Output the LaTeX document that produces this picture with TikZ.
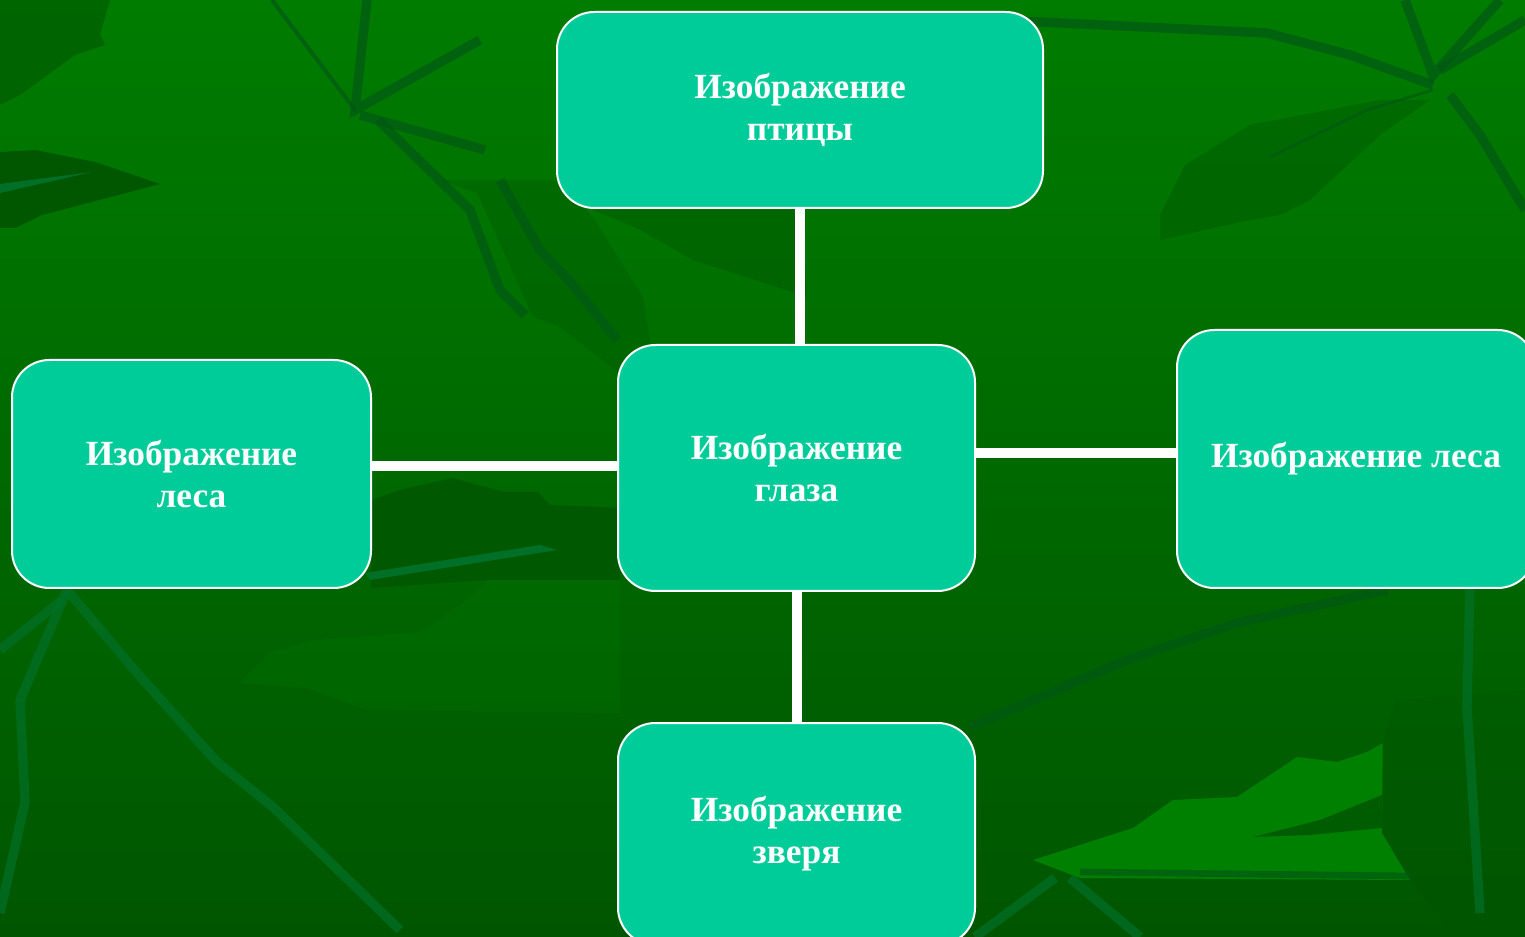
\documentclass[tikz,border=0pt]{standalone}
\usepackage{fontspec}
\setmainfont{Liberation Serif}
\usetikzlibrary{positioning}
\definecolor{boxfill}{RGB}{0,204,153}
\definecolor{bgtop}{RGB}{0,124,0}
\definecolor{bgbottom}{RGB}{0,86,0}
\definecolor{leafdark}{RGB}{0,84,0}
\definecolor{leaflight}{RGB}{0,128,0}
\definecolor{veindark}{RGB}{0,88,20}
\definecolor{veinlight}{RGB}{0,112,40}
\begin{document}
\begin{tikzpicture}[x=0.75pt,y=-0.75pt,
    box/.style={draw=white, line width=1.5pt, fill=boxfill, rounded corners=28pt,
      text=white, align=center, inner sep=0pt,
      font=\fontsize{26.5}{31.5}\selectfont\bfseries},
    link/.style={draw=white, line width=7.5pt},
    leaf/.style={fill=leafdark, opacity=0.55},
    vein/.style={draw=veindark, line width=7pt, opacity=0.7}]
  \useasboundingbox (0,0) rectangle (1525,937);
  \clip (0,0) rectangle (1525,937);
  % background
  \shade[top color=bgtop, bottom color=bgbottom] (0,0) rectangle (1525,937);
  \fill[leaf] (0,0) -- (110,0) -- (100,35) -- (105,45) -- (75,55) -- (20,95) -- (0,105) -- cycle;
  \fill[leaf, opacity=0.9] (0,152) -- (35,150) -- (95,162) -- (160,184) -- (42,215) -- (15,228) -- (0,228) -- cycle;
  \fill[veinlight] (0,184) -- (92,172) -- (0,193) -- cycle;
  \fill[leaf, opacity=0.3] (440,180) -- (477,193) -- (533,317) -- (560,327) -- (618,372)
    -- (650,343) -- (643,297) -- (593,217) -- (560,180) -- cycle;
  \fill[leaf, opacity=0.4] (593,210) -- (800,210) -- (807,297) -- (777,287) -- (693,260) -- (637,228) -- cycle;
  \fill[leaf, opacity=0.4] (1185,165) -- (1250,125) -- (1380,100) -- (1430,100) -- (1380,135) -- (1310,200)
    -- (1280,215) -- (1250,220) -- (1205,230) -- (1160,240) -- (1160,215) -- cycle;
  \fill[leaf, opacity=0.7] (371,500) -- (400,490) -- (452,478) -- (505,492) -- (538,492) -- (550,505)
    -- (620,508) -- (620,580) -- (487,580) -- (371,588) -- cycle;
  \fill[veinlight] (365,573) -- (540,545) -- (557,550) -- (370,580) -- cycle;
  \fill[leaflight, opacity=0.2] (240,683) -- (270,652) -- (313,640) -- (420,632) -- (470,598) -- (487,580)
    -- (620,580) -- (620,713) -- (367,710) -- (307,688) -- cycle;
  \fill[leaflight] (1033,860) -- (1133,828) -- (1173,800) -- (1237,797) -- (1297,757) -- (1337,762)
    -- (1367,752) -- (1383,743) -- (1382,833) -- (1410,880) -- (1080,878) -- cycle;
  \fill[leaf, opacity=0.8] (1253,837) -- (1320,820) -- (1382,795) -- (1382,828) -- (1310,835) -- cycle;
  \fill[leaf, opacity=0.25] (1382,743) -- (1395,700) -- (1525,690) -- (1525,937) -- (1455,937)
    -- (1410,880) -- (1382,833) -- cycle;
  % veins
  \draw[vein] (367,0) -- (355,110) -- (480,40);
  \draw[vein, line width=3pt] (272,0) -- (355,110);
  \draw[vein] (360,115) -- (485,150);
  \draw[vein] (378,120) -- (470,210) -- (500,290) -- (525,315);
  \draw[vein] (500,180) -- (540,250) -- (573,285) -- (617,340);
  \draw[vein] (1000,20) -- (1267,33) -- (1350,55) -- (1433,85);
  \draw[vein] (1405,0) -- (1433,75) -- (1500,0);
  \draw[vein] (1525,20) -- (1440,70);
  \draw[vein] (1450,95) -- (1480,135) -- (1525,210);
  \draw[vein, line width=2pt] (1433,90) -- (1367,110) -- (1270,157);
  \draw[vein, draw=veinlight] (67,590) -- (137,673) -- (217,762) -- (273,807) -- (400,930);
  \draw[vein, draw=veinlight] (67,590) -- (20,700) -- (25,802) -- (0,913);
  \draw[vein, draw=veinlight] (62,600) -- (0,650);
  \draw[vein] (970,727) -- (1127,660) -- (1237,623) -- (1387,590);
  \draw[vein, line width=5pt] (1080,872) -- (1410,876);
  \draw[vein, draw=veinlight] (1055,878) -- (975,937);
  \draw[vein, draw=veinlight] (1070,878) -- (1140,937);
  \draw[vein, draw=veinlight] (1470,580) -- (1467,707) -- (1480,913);
  % boxes
  \node[box, minimum width=364.5pt, minimum height=147pt] (bird) at (800,110) {Изображение\\птицы};
  \node[box, minimum width=267.75pt, minimum height=184.5pt] (eye) at (796.5,468) {Изображение\\глаза};
  \node[box, minimum width=269.25pt, minimum height=171pt] (forestl) at (191.5,474) {Изображение\\леса};
  \node[box, minimum width=268.5pt, minimum height=193.5pt] (forestr) at (1356,459) {Изображение леса};
  \node[box, minimum width=267.75pt, minimum height=166.5pt] (beast) at (796.5,834) {Изображение\\зверя};
  % links
  \draw[link] (bird.south) -- (bird.south |- eye.north);
  \draw[link] (eye.south) -- (beast.north);
  \draw[link] (eye.west |- 0,466) -- (forestl.east |- 0,466);
  \draw[link] (eye.east |- 0,453) -- (forestr.west |- 0,453);
\end{tikzpicture}
\end{document}
